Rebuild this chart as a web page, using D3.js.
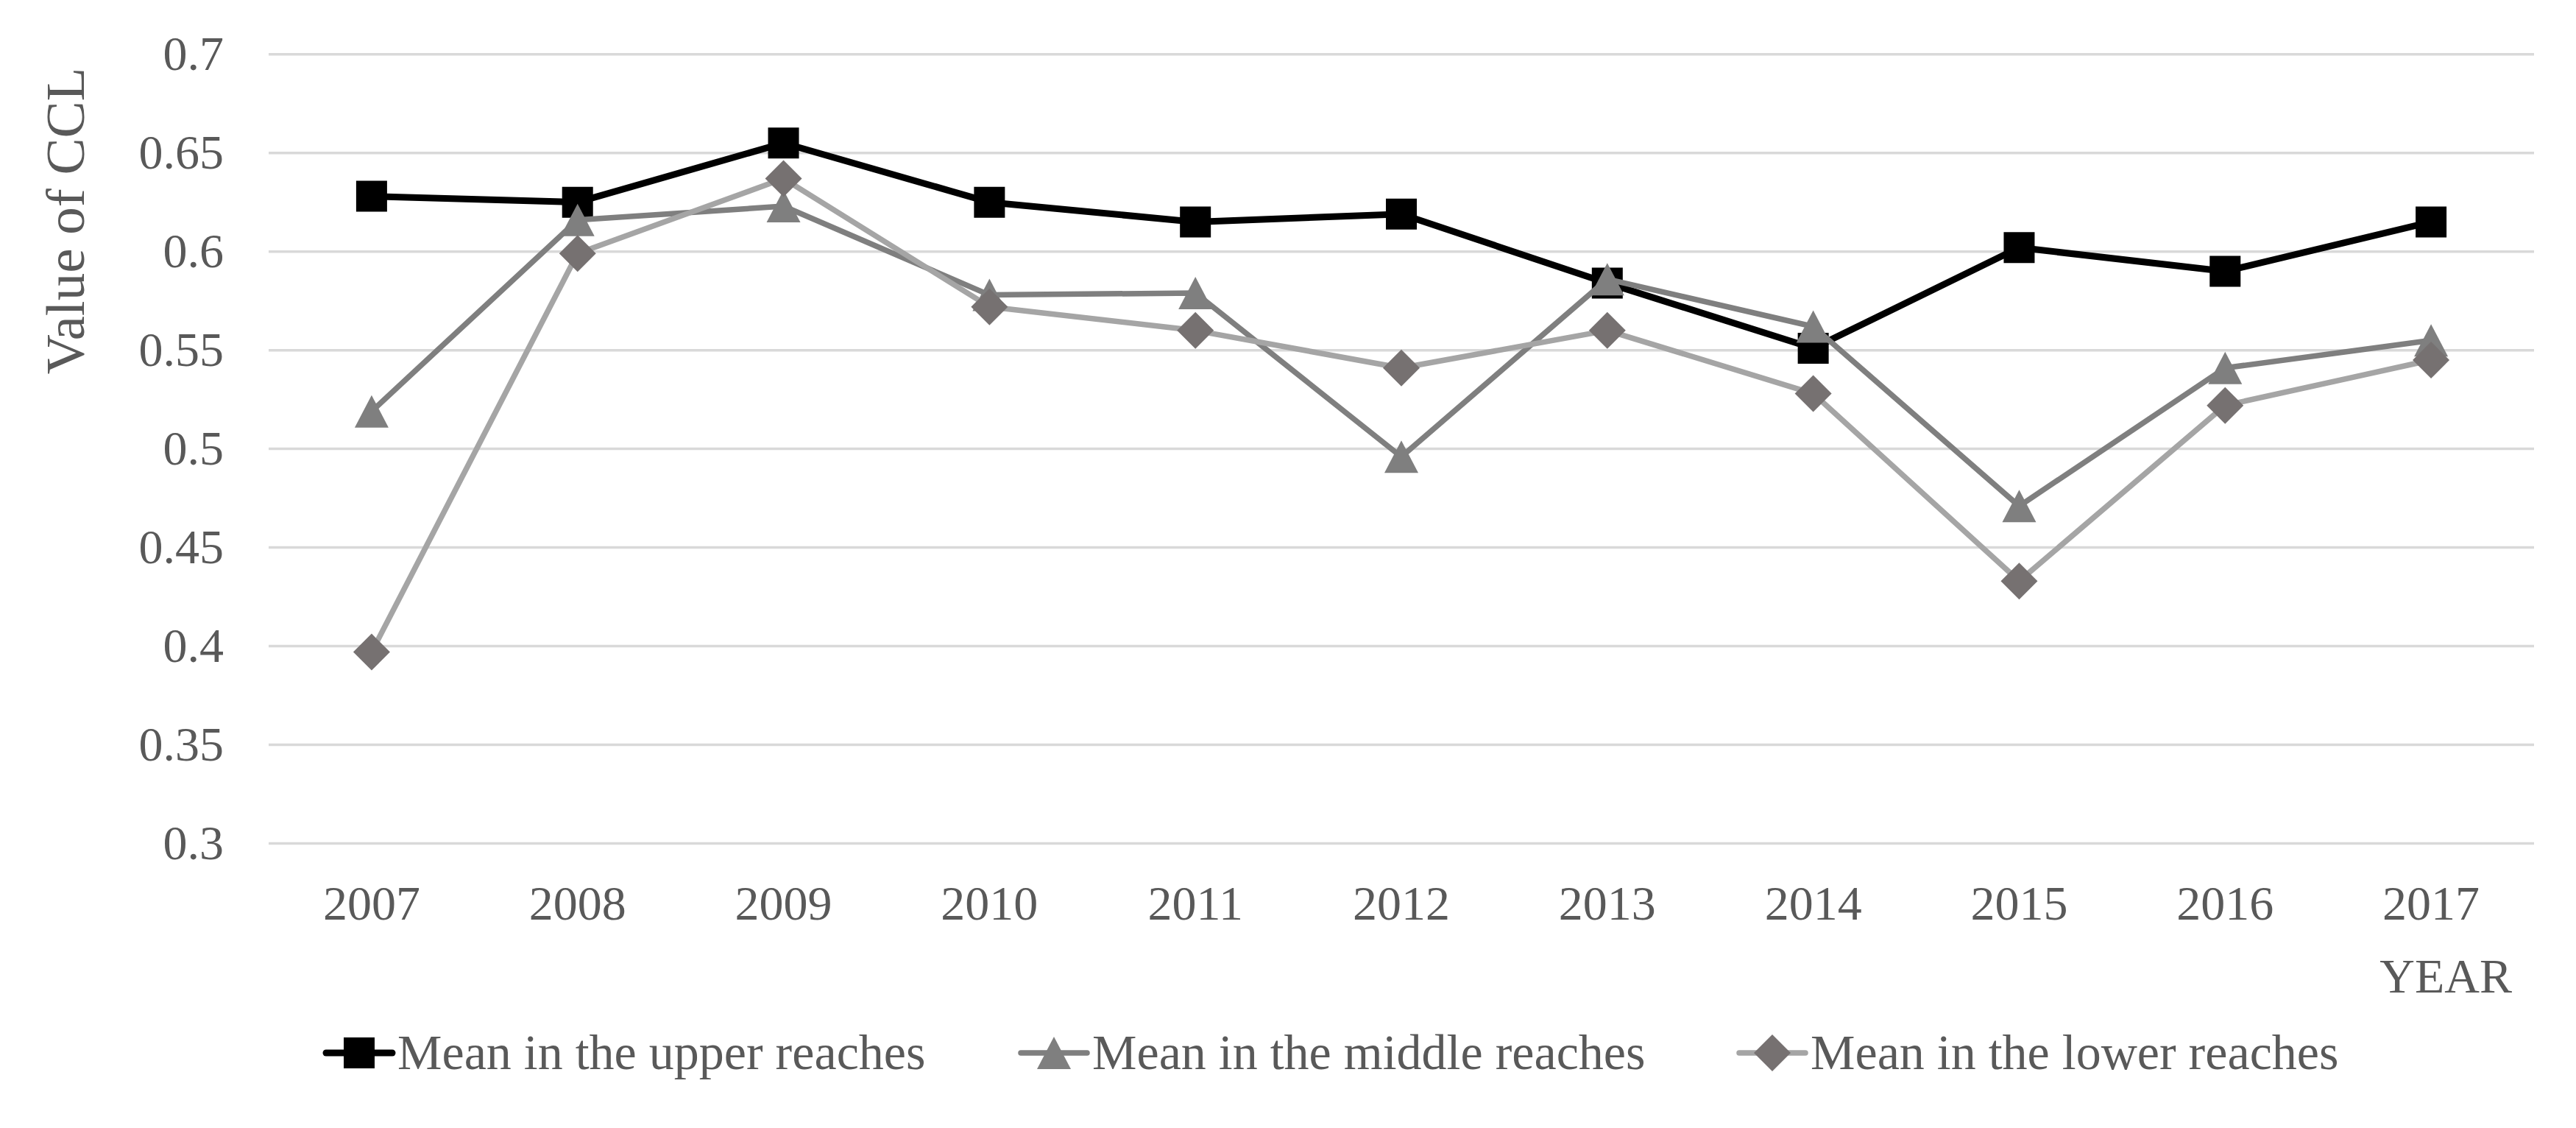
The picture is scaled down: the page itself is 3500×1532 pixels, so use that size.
<!DOCTYPE html>
<html>
<head>
<meta charset="utf-8">
<script src="https://cdn.jsdelivr.net/npm/d3@7"></script>
<style>
html,body{margin:0;padding:0;background:#fff;}
svg{display:block;}
text{font-family:"Liberation Serif","Times New Roman",serif;}
</style>
</head>
<body>
<svg id="chart" width="3500" height="1532"></svg>
<script>
const years = ["2007","2008","2009","2010","2011","2012","2013","2014","2015","2016","2017"];
const upperValues  = [0.628, 0.625, 0.655, 0.625, 0.615, 0.619, 0.584, 0.551, 0.602, 0.590, 0.615];
const middleValues = [0.519, 0.616, 0.623, 0.578, 0.579, 0.496, 0.586, 0.562, 0.471, 0.541, 0.555];
const lowerValues  = [0.397, 0.599, 0.637, 0.572, 0.560, 0.541, 0.560, 0.528, 0.433, 0.522, 0.545];
const yTicks = [0.3, 0.35, 0.4, 0.45, 0.5, 0.55, 0.6, 0.65, 0.7];
const seriesNames = ["Mean in the upper reaches", "Mean in the middle reaches", "Mean in the lower reaches"];

const series = [
  {name: seriesNames[0], values: upperValues,  line: "#000000", marker: "#000000", shape: "square",   lw: 9},
  {name: seriesNames[1], values: middleValues, line: "#7f7f7f", marker: "#7f7f7f", shape: "triangle", lw: 7.5},
  {name: seriesNames[2], values: lowerValues,  line: "#a5a5a5", marker: "#767171", shape: "diamond",  lw: 7.5}
];

const svg = d3.select("#chart");
const plotL = 365, plotR = 3443, plotT = 73.7, plotB = 1145.5;

const x = d3.scaleBand().domain(years).range([plotL, plotR]).padding(0);
const cx = d => x(d) + x.bandwidth() / 2;
const y = d3.scaleLinear().domain([0.3, 0.7]).range([plotB, plotT]);

// gridlines
svg.append("g").selectAll("line").data(yTicks).join("line")
  .attr("x1", plotL).attr("x2", plotR)
  .attr("y1", d => y(d)).attr("y2", d => y(d))
  .attr("stroke", "#d9d9d9").attr("stroke-width", 3.5);

// y axis labels
const yAxis = d3.axisLeft(y).tickValues(yTicks).tickFormat(d => String(+d.toFixed(2))).tickSize(0).tickPadding(0);
const yg = svg.append("g").attr("transform", `translate(304,0)`).call(yAxis);
yg.select(".domain").remove();
yg.selectAll("text").attr("font-size", 66).attr("fill", "#595959")
  .attr("font-family", "Liberation Serif, Times New Roman, serif");

// x axis labels
const xAxis = d3.axisBottom(x).tickSize(0).tickPadding(0);
const xg = svg.append("g").attr("transform", `translate(0,${plotB})`).call(xAxis);
xg.select(".domain").remove();
xg.selectAll("text").attr("font-size", 66).attr("fill", "#595959")
  .attr("dy", null).attr("y", 103.5)
  .attr("font-family", "Liberation Serif, Times New Roman, serif");

// axis titles
svg.append("text").attr("transform", "translate(114,300) rotate(-90)")
  .attr("text-anchor", "middle").attr("font-size", 75).attr("fill", "#595959")
  .text("Value of CCL");
svg.append("text").attr("x", 3413).attr("y", 1348).attr("text-anchor", "end")
  .attr("font-size", 66).attr("fill", "#595959").text("YEAR");

function markerPath(shape, px, py) {
  if (shape === "square") {
    const s = 21;
    return `M${px-s},${py-s}H${px+s}V${py+s}H${px-s}Z`;
  } else if (shape === "triangle") {
    const w = 23, h = 22;
    return `M${px},${py-h}L${px+w},${py+h}L${px-w},${py+h}Z`;
  } else {
    const r = 25;
    return `M${px},${py-r}L${px+r},${py}L${px},${py+r}L${px-r},${py}Z`;
  }
}

const line = d3.line().x(d => cx(d.year)).y(d => y(d.v));
series.forEach(s => {
  const pts = years.map((yr, i) => ({year: yr, v: s.values[i]}));
  const g = svg.append("g");
  g.append("path").datum(pts).attr("d", line)
    .attr("fill", "none").attr("stroke", s.line).attr("stroke-width", s.lw)
    .attr("stroke-linejoin", "round").attr("stroke-linecap", "round");
  g.selectAll("path.m").data(pts).join("path").attr("class", "m")
    .attr("d", d => markerPath(s.shape, cx(d.year), y(d.v)))
    .attr("fill", s.marker);
});

// legend
const legendX = [443, 1387, 2363];
const legendY = 1430;
series.forEach((s, i) => {
  const g = svg.append("g");
  const x0 = legendX[i];
  g.append("line").attr("x1", x0).attr("x2", x0 + 90).attr("y1", legendY).attr("y2", legendY)
    .attr("stroke", s.line).attr("stroke-width", s.lw).attr("stroke-linecap", "round");
  g.append("path").attr("d", markerPath(s.shape, x0 + 45, legendY)).attr("fill", s.marker);
  g.append("text").attr("x", x0 + 97).attr("y", legendY + 22)
    .attr("font-size", 68).attr("fill", "#595959").text(s.name);
});
</script>
</body>
</html>
